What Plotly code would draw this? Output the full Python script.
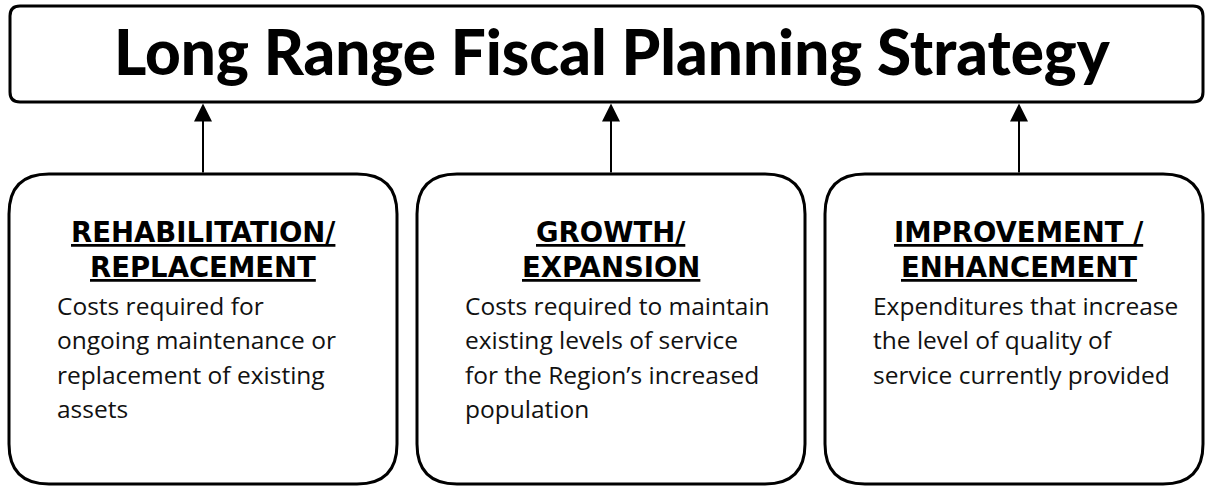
import plotly.graph_objects as go

# ---- content ----
title_text = "Long Range Fiscal Planning Strategy"
categories = ["REHABILITATION/|REPLACEMENT", "GROWTH/|EXPANSION", "IMPROVEMENT /|ENHANCEMENT"]
descriptions = [
    ["Costs required for", "ongoing maintenance or", "replacement of existing", "assets"],
    ["Costs required to maintain", "existing levels of service", "for the Region\u2019s increased", "population"],
    ["Expenditures that increase", "the level of quality of", "service currently provided"],
]

# ---- layout geometry (pixels) ----
W, H = 1205, 486
box_x0 = [9, 417, 825]
box_x1 = [397, 805, 1203]
arrow_x = [203, 611, 1019]
box_y0, box_y1 = 174, 484
top_box = (10, 6, 1203, 102)
R_small, R_big = 10, 40
text_left_pad = 46

def rounded(x0, y0, x1, y1, r):
    return (f"M{x0+r},{y0} L{x1-r},{y0} Q{x1},{y0} {x1},{y0+r} "
            f"L{x1},{y1-r} Q{x1},{y1} {x1-r},{y1} L{x0+r},{y1} "
            f"Q{x0},{y1} {x0},{y1-r} L{x0},{y0+r} Q{x0},{y0} {x0+r},{y0} Z")

shapes = []
annotations = []

shapes.append(dict(type="path", path=rounded(*top_box, R_small), xref="x", yref="y",
                   line=dict(color="black", width=3), fillcolor="white"))

annotations.append(dict(x=612, y=51, xref="x", yref="y",
                        text=title_text, showarrow=False,
                        font=dict(family="Lato", size=62, color="black", weight=900),
                        xanchor="center", yanchor="middle"))

head_font = dict(family="DejaVu Sans", size=27.5, color="black", weight=700)
body_font = dict(family="Open Sans", size=24.5, color="#111111")

for i, cat in enumerate(categories):
    x0, x1 = box_x0[i], box_x1[i]
    cx = arrow_x[i]
    shapes.append(dict(type="path", path=rounded(x0, box_y0, x1, box_y1, R_big), xref="x", yref="y",
                       line=dict(color="black", width=3), fillcolor="white"))
    annotations.append(dict(x=cx, y=top_box[3] + 1.5, ax=cx, ay=box_y0, xref="x", yref="y",
                            axref="x", ayref="y", text="", showarrow=True,
                            arrowhead=2, arrowsize=1.8, arrowwidth=2, arrowcolor="black"))
    for j, line in enumerate(cat.split("|")):
        annotations.append(dict(x=cx, y=232 + 35 * j, xref="x", yref="y",
                                text=f"<u>{line}</u>", showarrow=False,
                                font=head_font, xanchor="center", yanchor="middle"))
    for j, line in enumerate(descriptions[i]):
        annotations.append(dict(x=x0 + text_left_pad, y=305 + 34.5 * j, xref="x", yref="y",
                                text=line, showarrow=False, font=body_font,
                                xanchor="left", yanchor="middle"))

fig = go.Figure()
fig.update_layout(
    width=W, height=H, margin=dict(l=0, r=0, t=0, b=0),
    paper_bgcolor="white", plot_bgcolor="white",
    xaxis=dict(range=[0, W], visible=False, fixedrange=True),
    yaxis=dict(range=[H, 0], visible=False, fixedrange=True),
    shapes=shapes, annotations=annotations, showlegend=False,
)
fig.write_html("out.html", config={"displayModeBar": False},
               post_script="document.body.style.margin='0';document.body.style.overflow='hidden';")
